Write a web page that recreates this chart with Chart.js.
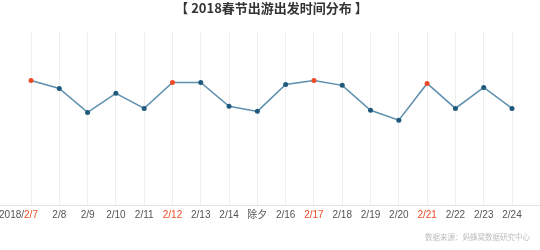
<!DOCTYPE html>
<html>
<head>
<meta charset="utf-8">
<script src="https://cdn.jsdelivr.net/npm/chart.js@4.4.1/dist/chart.umd.min.js"></script>
<style>
  html, body { margin: 0; padding: 0; background: #fff; }
  #wrap { position: relative; width: 540px; height: 250px; }
  #source {
    position: absolute; right: 10px; top: 231px; line-height: 10px;
    font: 7.5px "Noto Sans CJK SC", sans-serif; color: #bdbdbd;
  }
</style>
</head>
<body>
<div id="wrap">
  <canvas id="tripChart" width="540" height="250"></canvas>
  <div id="source">数据来源：蚂蜂窝数据研究中心</div>
</div>
<script>
const dates = ["2/7", "2/8", "2/9", "2/10", "2/11", "2/12", "2/13", "2/14", "除夕",
  "2/16", "2/17", "2/18", "2/19", "2/20", "2/21", "2/22", "2/23", "2/24"];
const departures = [71.8, 67.2, 53.4, 64.4, 55.7, 70.7, 70.7, 56.9, 54.0,
  69.5, 71.8, 69.0, 54.6, 48.9, 70.1, 55.7, 67.8, 55.7];
const highlighted = ["2/7", "2/12", "2/17", "2/21"];
const yearPrefix = "2018/";

const RED = "#ee4a26";
const BLUE = "#1f5a7d";
const LABEL_FAMILY = '"Liberation Sans", "Noto Sans CJK SC", sans-serif';

const ctx = document.getElementById("tripChart").getContext("2d");

// axis line across the whole width + year prefix before the first label
const extras = {
  id: "extras",
  afterDraw(chart) {
    const c = chart.ctx;
    const x = chart.scales.x;
    c.save();
    c.strokeStyle = "#e3e3e3";
    c.lineWidth = 1;
    c.beginPath();
    c.moveTo(0, chart.chartArea.bottom + 0.5);
    c.lineTo(chart.width, chart.chartArea.bottom + 0.5);
    c.stroke();

    c.font = "10px " + LABEL_FAMILY;
    const first = x.getPixelForValue(0);
    const w = c.measureText(dates[0]).width;
    c.fillStyle = "#555";
    c.textAlign = "right";
    c.textBaseline = "middle";
    c.fillText(yearPrefix, first - w / 2, chart.chartArea.bottom + 10);
    c.restore();
  },
};

new Chart(ctx, {
  type: "line",
  data: {
    labels: dates,
    datasets: [
      {
        label: "出发时间",
        data: departures,
        borderColor: "#5d8fae",
        borderWidth: 1.5,
        tension: 0,
        fill: false,
        pointRadius: 2.5,
        pointHoverRadius: 3,
        pointBorderWidth: 0,
        pointBackgroundColor: dates.map((d) => (highlighted.includes(d) ? RED : BLUE)),
        pointBorderColor: dates.map((d) => (highlighted.includes(d) ? RED : BLUE)),
      },
    ],
  },
  options: {
    responsive: false,
    animation: false,
    layout: {
      padding: { left: 31, right: 28, top: 0, bottom: 25 },
    },
    scales: {
      x: {
        grid: {
          display: true,
          color: "#eeeeee",
          drawTicks: false,
        },
        border: { display: false },
        ticks: {
          padding: 4,
          autoSkip: false,
          maxRotation: 0,
          font: { family: LABEL_FAMILY, size: 10 },
          color: (c) => (highlighted.includes(dates[c.index]) ? RED : "#555"),
        },
      },
      y: {
        display: false,
        min: 0,
        max: 100,
      },
    },
    plugins: {
      legend: { display: false },
      tooltip: { enabled: false },
      title: {
        display: true,
        text: "【 2018春节出游出发时间分布 】",
        color: "#333",
        font: { family: '"Noto Sans CJK SC", sans-serif', size: 13, weight: "bold" },
        padding: { top: 0, bottom: 16 },
      },
    },
  },
  plugins: [extras],
});
</script>
</body>
</html>
